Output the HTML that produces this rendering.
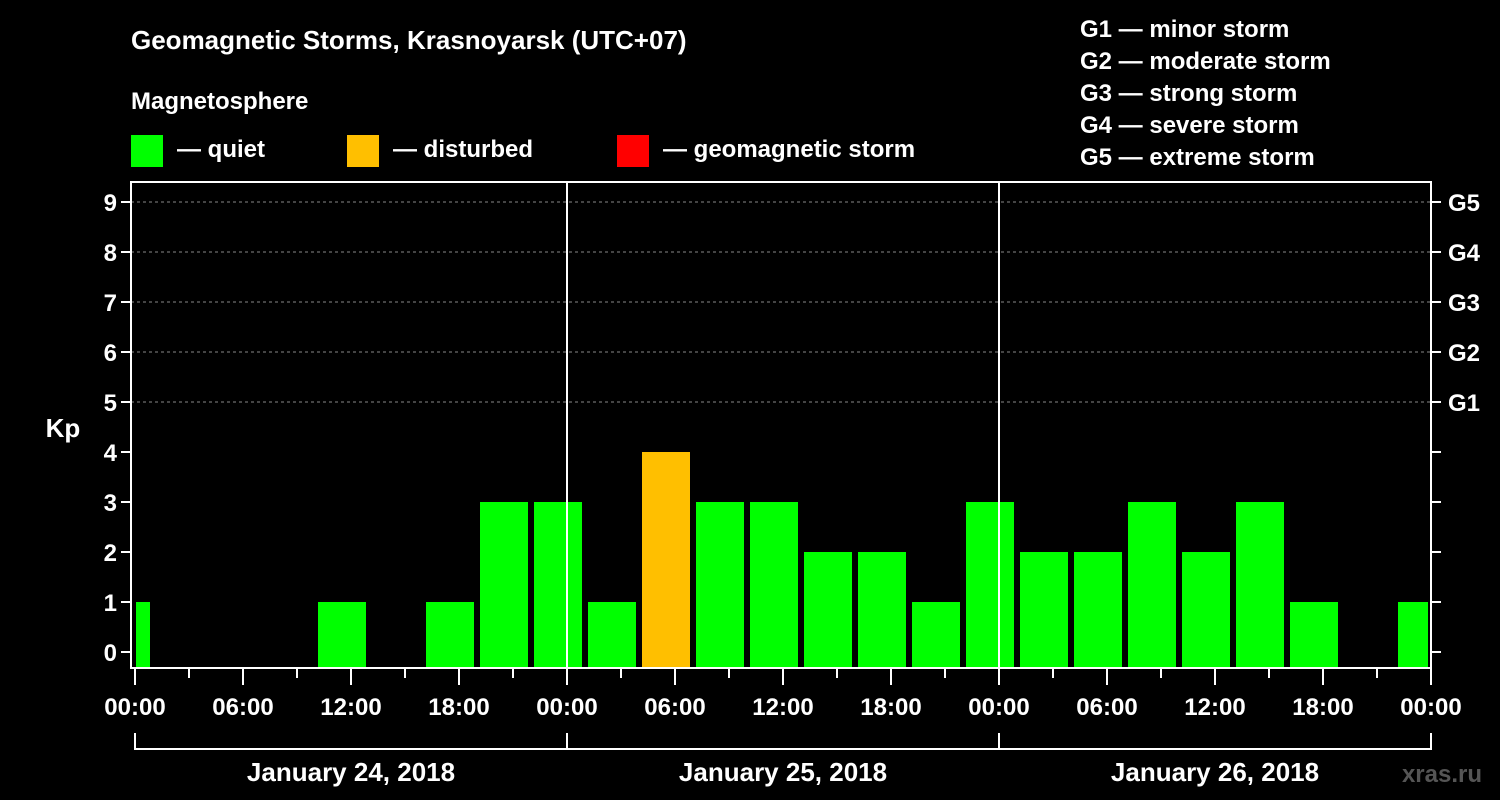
<!DOCTYPE html>
<html><head><meta charset="utf-8"><style>
body{margin:0;background:#000;width:1500px;height:800px;overflow:hidden}
svg{display:block;font-family:"Liberation Sans",sans-serif;font-weight:bold}
</style></head><body>
<svg id="chart" width="1500" height="800" viewBox="0 0 1500 800">
<rect width="1500" height="800" fill="#000"/>
<text x="131" y="49" fill="#fff" font-size="26">Geomagnetic Storms, Krasnoyarsk (UTC+07)</text>
<text x="131" y="109" fill="#fff" font-size="24">Magnetosphere</text>
<g><rect x="131" y="135" width="32" height="32" fill="#00ff00"/><text x="177" y="157" fill="#fff" font-size="24">— quiet</text></g>
<g><rect x="347" y="135" width="32" height="32" fill="#ffbf00"/><text x="393" y="157" fill="#fff" font-size="24">— disturbed</text></g>
<g><rect x="617" y="135" width="32" height="32" fill="#ff0000"/><text x="663" y="157" fill="#fff" font-size="24">— geomagnetic storm</text></g>
<g fill="#fff" font-size="24">
<text x="1080" y="37">G1 — minor storm</text><text x="1080" y="69">G2 — moderate storm</text><text x="1080" y="101">G3 — strong storm</text><text x="1080" y="133">G4 — severe storm</text><text x="1080" y="165">G5 — extreme storm</text>
</g>
<g id="grid"></g><g id="bars"></g><g id="axes"></g>
<text x="63" y="437" fill="#fff" font-size="26" text-anchor="middle">Kp</text>
<text x="1482" y="782" fill="#555" font-size="24" text-anchor="end">xras.ru</text>
</svg>
<script>
const dayLabels=["January 24, 2018","January 25, 2018","January 26, 2018"];
const kpValues=[1, 0,0,0,1,0,1,3,3, 1,4,3,3,2,2,1,3, 2,2,3,2,3,1,0,1];
const yTicks=[0,1,2,3,4,5,6,7,8,9];
const gLabels=["G1","G2","G3","G4","G5"];
const xTickLabels=["00:00","06:00","12:00","18:00","00:00","06:00","12:00","18:00","00:00","06:00","12:00","18:00","00:00"];
const NS="http://www.w3.org/2000/svg";
const L=131,R=1431,T=182,B=668,X0=135;
const xh=h=>X0+h*18;           // hours from start
const yk=v=>652-v*50;
function mk(p,t,a){const e=document.createElementNS(NS,t);for(const k in a)e.setAttribute(k,a[k]);p.appendChild(e);return e;}
const grid=document.getElementById('grid'),bars=document.getElementById('bars'),axes=document.getElementById('axes');
for(let v=5;v<=9;v++){const l=mk(grid,'line',{x1:L,x2:R,y1:yk(v),y2:yk(v),stroke:'#888','stroke-dasharray':'3,3','stroke-width':1});

}
kpValues.forEach((v,i)=>{if(v<=0)return;
 let s=-2+3*i, e=s+3;
 let x1=Math.max(xh(s)+3,X0+1), x2=Math.min(xh(e)-3,R-3);
 const col=v>=5?'#ff0000':(v>=4?'#ffbf00':'#00ff00');
 const r=mk(bars,'rect',{x:x1,y:yk(v),width:x2-x1,height:B-yk(v),fill:col});
 
 });
const fr=mk(axes,'rect',{x:L,y:T,width:R-L,height:B-T,fill:'none',stroke:'#fff','stroke-width':2});


[24,48].forEach(h=>{const l=mk(axes,'line',{x1:xh(h),x2:xh(h),y1:T,y2:B,stroke:'#fff','stroke-width':2});

});
yTicks.forEach(v=>{mk(axes,'line',{x1:L-10,x2:L,y1:yk(v),y2:yk(v),stroke:'#fff','stroke-width':2});
 mk(axes,'line',{x1:R,x2:R+10,y1:yk(v),y2:yk(v),stroke:'#fff','stroke-width':2});
 const t=mk(axes,'text',{x:L-14,y:yk(v)+9,fill:'#fff','font-size':24,'text-anchor':'end'});t.textContent=v;
 
 });
gLabels.forEach((g,i)=>{const t=mk(axes,'text',{x:R+17,y:yk(5+i)+9,fill:'#fff','font-size':24});t.textContent=g;
 
 });
for(let h=0;h<=72;h+=3){const maj=h%6===0;mk(axes,'line',{x1:xh(h),x2:xh(h),y1:B,y2:B+(maj?17:10),stroke:'#fff','stroke-width':2});}
xTickLabels.forEach((s,i)=>{const t=mk(axes,'text',{x:xh(i*6),y:715,fill:'#fff','font-size':24,'text-anchor':'middle'});t.textContent=s;
 
 });
mk(axes,'line',{x1:X0,x2:xh(72),y1:749,y2:749,stroke:'#fff','stroke-width':2});
for(let d=0;d<=3;d++)mk(axes,'line',{x1:xh(d*24),x2:xh(d*24),y1:733,y2:750,stroke:'#fff','stroke-width':2});
dayLabels.forEach((s,i)=>{const t=mk(axes,'text',{x:xh(i*24+12),y:781,fill:'#fff','font-size':26,'text-anchor':'middle'});t.textContent=s;
 
 });
</script>
</body></html>
